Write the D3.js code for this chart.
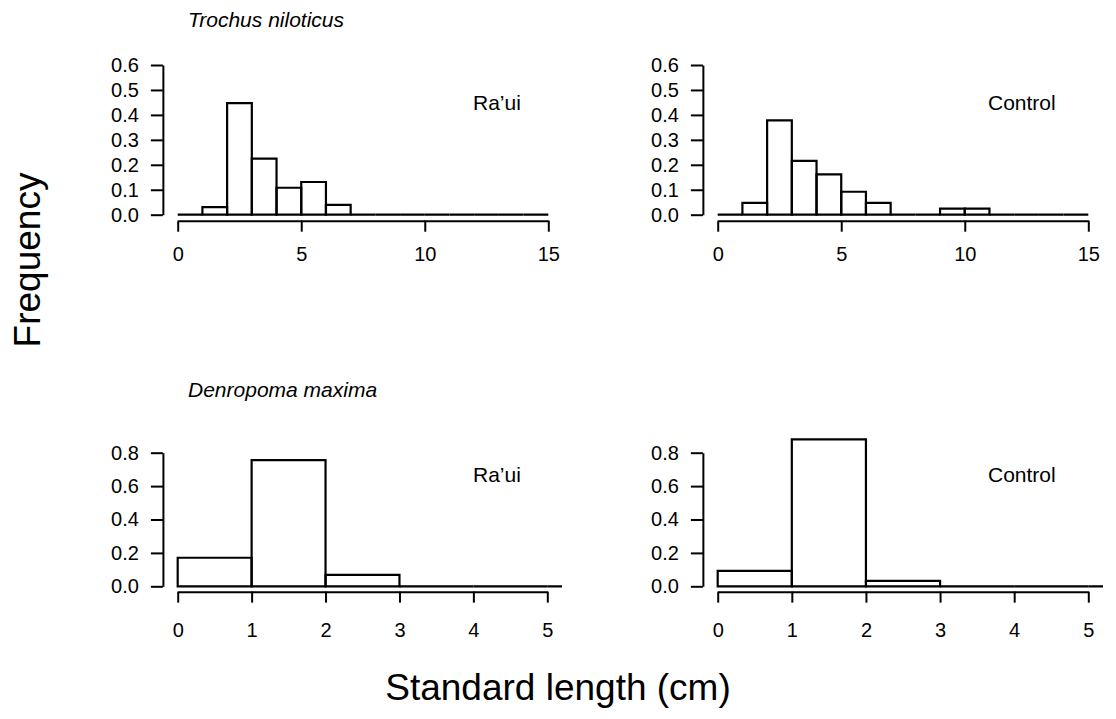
<!DOCTYPE html>
<html>
<head>
<meta charset="utf-8">
<script src="https://cdn.jsdelivr.net/npm/d3@7"></script>
<style>
  body { margin: 0; background: #fff; }
  svg { display: block; font-family: "Liberation Sans", Arial, Helvetica, sans-serif; }
  .axis path, .axis line { stroke: #000; stroke-width: 2; }
  .axis text { fill: #000; font-size: 20px; }
</style>
</head>
<body>
<div id="chart"></div>
<script>
// histogram breaks and relative frequencies
var trochusBreaks = [0, 1, 2, 3, 4, 5, 6, 7, 8, 9, 10, 11, 12, 13, 14, 15];
var trochusRaui = [0, 0.03, 0.447, 0.225, 0.108, 0.131, 0.039, 0, 0, 0, 0, 0, 0, 0, 0];
var trochusControl = [0, 0.047, 0.378, 0.216, 0.162, 0.092, 0.047, 0, 0, 0.024, 0.024, 0, 0, 0, 0];
var trochusXTicks = [0, 5, 10, 15];
var trochusYTicks = [0.0, 0.1, 0.2, 0.3, 0.4, 0.5, 0.6];

var denBreaks = [0, 1, 2, 3, 4, 5, 6];
var denRaui = [0.171, 0.756, 0.068, 0, 0, 0];
var denControl = [0.092, 0.88, 0.032, 0, 0, 0];
var denXTicks = [0, 1, 2, 3, 4, 5];
var denYTicks = [0.0, 0.2, 0.4, 0.6, 0.8];

var siteLabels = ["Ra\u2019ui", "Control"];
var speciesLabels = ["Trochus niloticus", "Denropoma maxima"];

var W = 1116, H = 719;
var svg = d3.select('#chart').append('svg')
    .attr('width', W)
    .attr('height', H);

// one histogram panel
function drawPanel(opt) {
    var x = d3.scaleLinear().domain([opt.xTicks[0], opt.xTicks[opt.xTicks.length - 1]]).range([opt.x0, opt.x1]);
    var y = d3.scaleLinear().domain([0, opt.yTicks[opt.yTicks.length - 1]]).range([opt.y0, opt.y1]);
    var g = svg.append('g');

    // clip to the plot region horizontally (R usr extends 4%)
    var span = opt.xTicks[opt.xTicks.length - 1] - opt.xTicks[0];
    var clipId = 'clip' + opt.id;
    svg.append('defs').append('clipPath')
        .attr('id', clipId)
        .append('rect')
        .attr('x', x(opt.xTicks[0] - span * 0.04))
        .attr('y', 0)
        .attr('width', x(opt.xTicks[opt.xTicks.length - 1] + span * 0.04) - x(opt.xTicks[0] - span * 0.04))
        .attr('height', H);

    var bins = opt.values.map(function(v, i) {
        return {x0: opt.breaks[i], x1: opt.breaks[i + 1], v: v};
    });
    g.append('g')
        .attr('clip-path', 'url(#' + clipId + ')')
        .selectAll('.bar')
        .data(bins)
        .enter().append('path')
        .attr('class', 'bar')
        .attr('d', function(d) {
            return 'M' + x(d.x0) + ',' + y(0) + 'V' + y(d.v) + 'H' + x(d.x1) + 'V' + y(0) + 'Z';
        })
        .attr('fill', 'none')
        .attr('stroke', '#000')
        .attr('stroke-width', 2.2);

    // axes
    var yLow = opt.yTicks[opt.yTicks.length - 1] * 0.04;
    var xAxisY = y(-yLow);
    var axisX = x(opt.xTicks[0] - span * 0.04);

    g.append('g')
        .attr('class', 'axis')
        .attr('transform', 'translate(0,' + xAxisY + ')')
        .call(d3.axisBottom(x).tickValues(opt.xTicks).tickSize(11).tickSizeOuter(0).tickPadding(opt.xPad).tickFormat(d3.format('d')));

    g.append('g')
        .attr('class', 'axis')
        .attr('transform', 'translate(' + axisX + ',0)')
        .call(d3.axisLeft(y).tickValues(opt.yTicks).tickSize(12).tickSizeOuter(0).tickPadding(12).tickFormat(d3.format('.1f')));

    g.append('text')
        .attr('x', opt.labelX)
        .attr('y', opt.labelY)
        .attr('font-size', 21)
        .text(opt.label);
}

var panels = [
    {id: 1, breaks: trochusBreaks, values: trochusRaui, xTicks: trochusXTicks, yTicks: trochusYTicks,
     x0: 177.7, x1: 548.3, y0: 214.7, y1: 65, xPad: 15, label: siteLabels[0], labelX: 473, labelY: 110},
    {id: 2, breaks: trochusBreaks, values: trochusControl, xTicks: trochusXTicks, yTicks: trochusYTicks,
     x0: 717.7, x1: 1088.3, y0: 214.7, y1: 65, xPad: 15, label: siteLabels[1], labelX: 988, labelY: 110},
    {id: 3, breaks: denBreaks, values: denRaui, xTicks: denXTicks, yTicks: denYTicks,
     x0: 177.7, x1: 547.3, y0: 586.3, y1: 452.7, xPad: 20, label: siteLabels[0], labelX: 473, labelY: 482},
    {id: 4, breaks: denBreaks, values: denControl, xTicks: denXTicks, yTicks: denYTicks,
     x0: 717.7, x1: 1088.3, y0: 586.3, y1: 452.7, xPad: 20, label: siteLabels[1], labelX: 988, labelY: 482}
];
panels.forEach(drawPanel);

// species titles
svg.append('text')
    .attr('x', 188).attr('y', 27)
    .attr('font-size', 21).attr('font-style', 'italic')
    .text(speciesLabels[0]);
svg.append('text')
    .attr('x', 188).attr('y', 397)
    .attr('font-size', 21).attr('font-style', 'italic')
    .text(speciesLabels[1]);

// outer axis titles
svg.append('text')
    .attr('transform', 'translate(40,260) rotate(-90)')
    .attr('text-anchor', 'middle')
    .attr('font-size', 37)
    .text('Frequency');
svg.append('text')
    .attr('x', 558).attr('y', 700)
    .attr('text-anchor', 'middle')
    .attr('font-size', 37)
    .text('Standard length (cm)');
</script>
</body>
</html>
